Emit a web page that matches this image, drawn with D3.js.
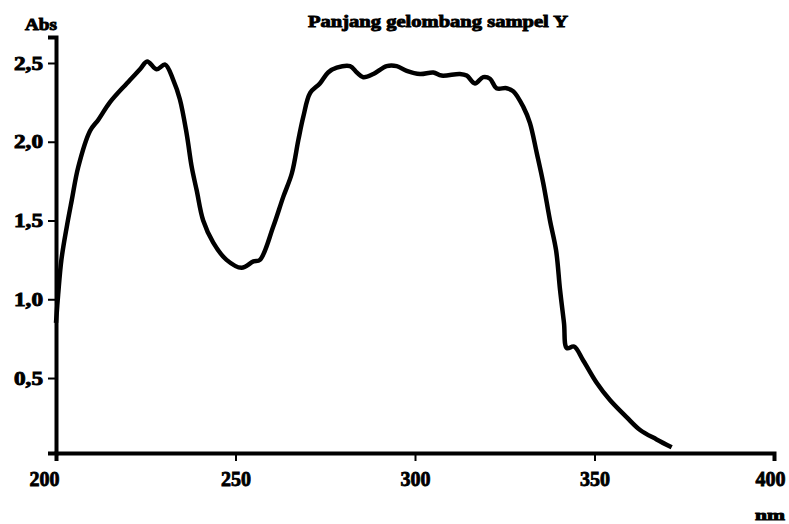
<!DOCTYPE html>
<html>
<head>
<meta charset="utf-8">
<script src="https://cdn.jsdelivr.net/npm/d3@7"></script>
<style>
  body { margin: 0; background: #fff; }
  svg { display: block; }
</style>
</head>
<body>
<svg id="viz_area" width="789" height="524"></svg>
<script>
// wavelength (nm) and absorbance
const wavelength = [200, 200.6, 201.5, 203, 204.4, 206.2, 209.5, 211.8, 215, 219.7, 223.4, 225.4, 228, 230.4, 232.7, 234.5, 236.4, 237.8, 239.2, 241, 243.8, 247.5, 251.7, 255, 256.8, 260.5, 263.3, 265.7, 267.5, 268.9, 270.8, 273.5, 275.8, 278.2, 281.9, 283.8, 285.6, 288.4, 292.1, 294.9, 297.7, 301.4, 305.1, 307.4, 312.5, 314.4, 316.7, 319, 320.9, 322.7, 325.5, 327.4, 330.2, 332, 333.9, 335.7, 337.6, 339.3, 340.4, 341.5, 342.3, 344.3, 346.9, 350.6, 354.3, 359, 362.7, 367.3, 371.5]
const absorbance = [0.85, 1.03, 1.25, 1.46, 1.63, 1.84, 2.07, 2.14, 2.25, 2.37, 2.46, 2.51, 2.46, 2.49, 2.39, 2.27, 2.05, 1.84, 1.69, 1.50, 1.36, 1.25, 1.20, 1.24, 1.25, 1.46, 1.65, 1.80, 2.01, 2.16, 2.31, 2.37, 2.44, 2.47, 2.48, 2.44, 2.41, 2.43, 2.48, 2.48, 2.45, 2.43, 2.44, 2.42, 2.43, 2.42, 2.37, 2.41, 2.40, 2.34, 2.34, 2.32, 2.22, 2.12, 1.93, 1.74, 1.50, 1.31, 1.06, 0.85, 0.69, 0.70, 0.61, 0.47, 0.36, 0.25, 0.17, 0.11, 0.06]

const xTicks = [200, 250, 300, 350, 400]
const xTickLabels = ['200', '250', '300', '350', '400']
const yTicks = [0.5, 1.0, 1.5, 2.0, 2.5]
const yTickLabels = ['0,5', '1,0', '1,5', '2,0', '2,5']

const chartTitle = 'Panjang gelombang sampel Y'
const yTitle = 'Abs'
const xTitle = 'nm'

const margin = { top: 37, right: 15, bottom: 71, left: 56 }
const svgSize = { width: 789, height: 524 }
const graphSize = {
  width: svgSize.width - margin.left - margin.right,
  height: svgSize.height - margin.top - margin.bottom
}
const fontFamily = '"Liberation Serif", "DejaVu Serif", serif'

const svg = d3.select('#viz_area')
const g = svg.append('g')
  .attr('transform', 'translate(' + margin.left + ',' + margin.top + ')')

const xScale = d3.scaleLinear()
  .domain([200, 400])
  .range([0, graphSize.width])

const yScale = d3.scaleLinear()
  .domain([0.024, 2.665])
  .range([graphSize.height, 0])

// heavy, smudged look of the scanned lettering
function heavyText(sel, size) {
  sel.attr('font-family', fontFamily)
    .attr('font-weight', 'bold')
    .attr('font-size', size)
    .attr('fill', '#000')
    .attr('stroke', '#000')
    .attr('stroke-width', 0.9)
    .attr('lengthAdjust', 'spacingAndGlyphs')
}

// x axis
const xAxis = g.append('g')
  .attr('transform', 'translate(0,' + graphSize.height + ')')
  .call(d3.axisBottom(xScale)
    .tickValues(xTicks)
    .tickSizeOuter(0)
    .tickSize(8)
    .tickPadding(9)
    .tickFormat(function (d, i) { return xTickLabels[i] }))

xAxis.select('.domain').attr('stroke', '#000').attr('stroke-width', 4)
xAxis.selectAll('.tick line').attr('stroke', '#000').attr('stroke-width', 2)
xAxis.selectAll('.tick text')
  .call(heavyText, 22)
  .attr('textLength', 30)
  .attr('dx', function (d, i) {
    if (i === 0) return -12
    if (i === xTicks.length - 1) return -4
    return 0
  })

// y axis
const yAxis = g.append('g')
  .call(d3.axisLeft(yScale)
    .tickValues(yTicks)
    .tickSizeOuter(0)
    .tickSize(8)
    .tickPadding(5)
    .tickFormat(function (d, i) { return yTickLabels[i] }))

yAxis.select('.domain').attr('stroke', '#000').attr('stroke-width', 4)
yAxis.selectAll('.tick line').attr('stroke', '#000').attr('stroke-width', 2)
yAxis.selectAll('.tick text')
  .call(heavyText, 19)
  .attr('textLength', 29)

// spectrum
const points = wavelength.map(function (w, i) { return [w, absorbance[i]] })
const line = d3.line()
  .x(function (d) { return xScale(d[0]) })
  .y(function (d) { return yScale(d[1]) })
  .curve(d3.curveCatmullRom.alpha(0.5))

g.append('path')
  .datum(points)
  .attr('d', line)
  .attr('fill', 'none')
  .attr('stroke', '#000')
  .attr('stroke-width', 4.5)
  .attr('stroke-linejoin', 'round')

// titles
svg.append('text')
  .attr('x', 308)
  .attr('y', 27)
  .call(heavyText, 17)
  .attr('textLength', 260)
  .text(chartTitle)

svg.append('text')
  .attr('x', 25)
  .attr('y', 30)
  .call(heavyText, 16)
  .attr('textLength', 32)
  .text(yTitle)

svg.append('text')
  .attr('x', 755)
  .attr('y', 520)
  .call(heavyText, 15)
  .attr('textLength', 30)
  .text(xTitle)
</script>
</body>
</html>
